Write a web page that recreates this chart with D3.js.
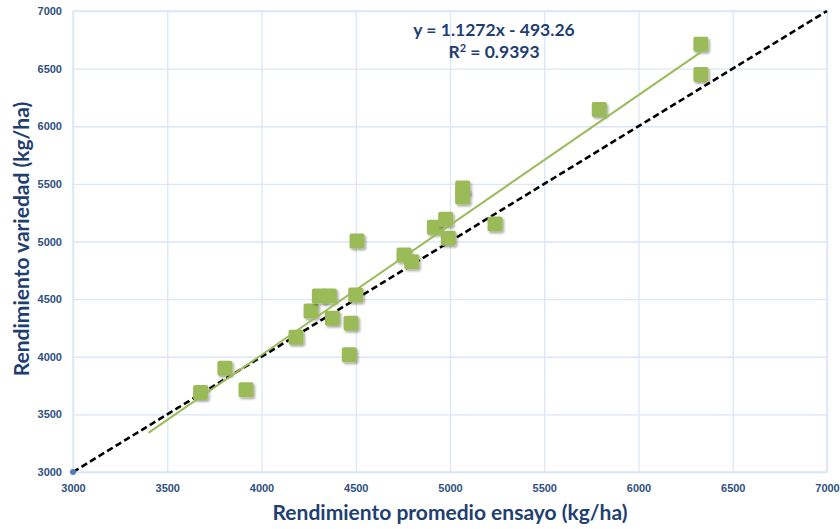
<!DOCTYPE html>
<html>
<head>
<meta charset="utf-8">
<script src="https://cdn.jsdelivr.net/npm/d3@7"></script>
<style>
  html, body { margin: 0; padding: 0; background: #fff; }
  svg { display: block; font-family: Lato, "Open Sans", sans-serif; }
</style>
</head>
<body>
<div id="chart"></div>
<script>
// promedio ensayo (x) vs variedad (y), kg/ha
var ensayo = [3677, 3806, 3918, 4183, 4263, 4307, 4360, 4376, 4475, 4500, 4466, 4507,
              4756, 4797, 4917, 4977, 4991, 5067, 5067, 5239, 5792, 6331, 6331];
var variedad = [3690, 3901, 3713, 4170, 4398, 4528, 4528, 4335, 4291, 4536, 4017, 5004,
                4883, 4825, 5123, 5193, 5028, 5464, 5386, 5152, 6146, 6712, 6449];
var ticks = [3000, 3500, 4000, 4500, 5000, 5500, 6000, 6500, 7000];
var slope = 1.1272, intercept = -493.26;
var trendRange = [3400, 6331];
var eqLabel = 'y = 1.1272x - 493.26';
var r2Label = '0.9393';

var W = 840, H = 529;
var margin = { top: 11, right: 13, bottom: 57, left: 73 };
var iw = W - margin.left - margin.right;
var ih = H - margin.top - margin.bottom;

var svg = d3.select('#chart').append('svg').attr('width', W).attr('height', H);

var defs = svg.append('defs');
var f = defs.append('filter').attr('id', 'shadow')
    .attr('x', '-30%').attr('y', '-30%').attr('width', '170%').attr('height', '170%');
f.append('feDropShadow').attr('dx', 1.5).attr('dy', 1.8).attr('stdDeviation', 1.2)
    .attr('flood-color', '#000').attr('flood-opacity', 0.35);

var g = svg.append('g').attr('transform', 'translate(' + margin.left + ',' + margin.top + ')');

var x = d3.scaleLinear().domain([3000, 7000]).range([0, iw]);
var y = d3.scaleLinear().domain([3000, 7000]).range([ih, 0]);

var gridColor = '#dce6f6';
var tickColor = '#2f4f82';

// grid
g.append('g').attr('class', 'gridX')
  .attr('transform', 'translate(0,' + ih + ')')
  .call(d3.axisBottom(x).tickValues(ticks).tickSize(-ih).tickFormat(''))
  .call(function (s) { s.select('.domain').remove(); s.selectAll('line').attr('stroke', gridColor).attr('stroke-width', 1.3); });
g.append('g').attr('class', 'gridY')
  .call(d3.axisLeft(y).tickValues(ticks).tickSize(-iw).tickFormat(''))
  .call(function (s) { s.select('.domain').remove(); s.selectAll('line').attr('stroke', gridColor).attr('stroke-width', 1.3); });
g.append('rect').attr('width', iw).attr('height', ih)
  .attr('fill', 'none').attr('stroke', gridColor).attr('stroke-width', 1.5);

// tick labels
var xAxis = g.append('g').attr('transform', 'translate(0,' + ih + ')')
  .call(d3.axisBottom(x).tickValues(ticks).tickSize(0).tickPadding(12).tickFormat(d3.format('d')));
var yAxis = g.append('g')
  .call(d3.axisLeft(y).tickValues(ticks).tickSize(0).tickPadding(11).tickFormat(d3.format('d')));
[xAxis, yAxis].forEach(function (a) {
  a.select('.domain').remove();
  a.selectAll('text').attr('fill', tickColor).style('font-size', '11px').style('font-weight', 'bold');
});

// 1:1 line
g.append('line')
  .attr('x1', x(3000)).attr('y1', y(3000)).attr('x2', x(7000)).attr('y2', y(7000))
  .attr('stroke', '#000').attr('stroke-width', 2.6).attr('stroke-dasharray', '6.5,3.5');
g.append('circle').attr('cx', x(3000)).attr('cy', y(3000)).attr('r', 3).attr('fill', '#4f81bd');

// points
var pts = ensayo.map(function (d, i) { return [d, variedad[i]]; });
var sz = 15;
g.append('g').selectAll('rect.pt').data(pts).enter().append('rect')
  .attr('class', 'pt')
  .attr('x', function (d) { return x(d[0]) - sz / 2; })
  .attr('y', function (d) { return y(d[1]) - sz / 2; })
  .attr('width', sz).attr('height', sz).attr('rx', 2)
  .attr('fill', '#9bbb59').attr('filter', 'url(#shadow)');

// trend line
g.append('line')
  .attr('x1', x(trendRange[0])).attr('y1', y(slope * trendRange[0] + intercept))
  .attr('x2', x(trendRange[1])).attr('y2', y(slope * trendRange[1] + intercept))
  .attr('stroke', '#9bbb59').attr('stroke-width', 2);

// equation
var titleColor = '#1f3f73';
var eq = svg.append('text').attr('x', 494).attr('y', 36).attr('text-anchor', 'middle')
  .attr('fill', titleColor).style('font-size', '17.5px').style('font-weight', 'bold').text(eqLabel);
var r2 = svg.append('text').attr('x', 494).attr('y', 58).attr('text-anchor', 'middle')
  .attr('fill', titleColor).style('font-size', '17.5px').style('font-weight', 'bold');
r2.append('tspan').text('R');
r2.append('tspan').attr('dy', -6).style('font-size', '11px').text('2');
r2.append('tspan').attr('dy', 6).text(' = ' + r2Label);

// axis titles
svg.append('text').attr('x', 450).attr('y', 520).attr('text-anchor', 'middle')
  .attr('fill', titleColor).style('font-size', '21px').style('font-weight', 'bold')
  .text('Rendimiento promedio ensayo (kg/ha)');
svg.append('text').attr('transform', 'translate(29,239) rotate(-90)').attr('text-anchor', 'middle')
  .attr('fill', titleColor).style('font-size', '21px').style('font-weight', 'bold')
  .text('Rendimiento variedad (kg/ha)');
</script>
</body>
</html>
